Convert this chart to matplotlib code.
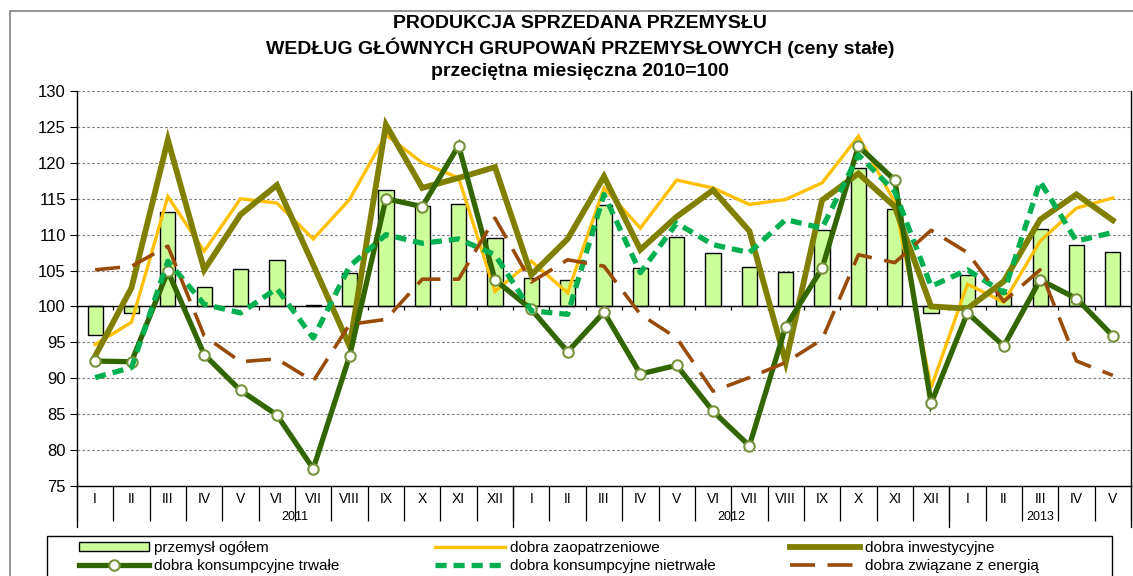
import numpy as np
import matplotlib.pyplot as plt
from matplotlib.patches import Rectangle
from matplotlib.lines import Line2D

plt.rcParams['font.family'] = ['Liberation Sans', 'DejaVu Sans']
plt.rcParams['lines.scale_dashes'] = False
NARROW = ['Liberation Sans Narrow', 'Liberation Sans', 'DejaVu Sans']

# -----------------------------
# Data (2010 monthly average = 100)
# -----------------------------
months = ["I", "II", "III", "IV", "V", "VI", "VII", "VIII", "IX", "X", "XI", "XII"] * 2 + \
         ["I", "II", "III", "IV", "V"]
years = ["2011", "2012", "2013"]
year_len = [12, 12, 5]

ogolem = [96.0, 99.1, 113.1, 102.7, 105.2, 106.4, 100.2, 104.7, 116.2, 114.0, 114.3, 109.5,
          104.0, 103.7, 114.1, 105.4, 109.7, 107.5, 105.5, 104.8, 110.6, 119.3, 113.6, 99.1,
          104.4, 101.9, 110.8, 108.5, 107.6]
zaopatrz = [94.7, 97.8, 115.3, 107.7, 115.0, 114.4, 109.4, 114.9, 123.9, 120.0, 117.9, 102.1,
            106.3, 101.9, 116.5, 110.9, 117.6, 116.5, 114.2, 114.9, 117.2, 123.7, 114.5, 88.7,
            103.1, 100.6, 109.1, 113.7, 115.1]
inwest = [93.1, 102.6, 123.2, 105.1, 112.8, 116.9, 105.8, 94.5, 125.3, 116.5, 117.9, 119.4,
          104.4, 109.4, 118.1, 107.9, 112.5, 116.2, 110.5, 92.2, 114.8, 118.5, 113.9, 100.0,
          99.7, 103.5, 112.1, 115.6, 112.0]
trwale = [92.4, 92.3, 104.9, 93.3, 88.3, 84.9, 77.4, 93.1, 115.0, 113.9, 122.4, 103.7,
          99.6, 93.7, 99.2, 90.6, 91.8, 85.4, 80.6, 97.2, 105.3, 122.3, 117.6, 86.5,
          99.1, 94.5, 103.7, 101.1, 95.9]
nietrwale = [90.1, 91.5, 106.3, 100.3, 99.1, 102.5, 95.6, 105.6, 110.0, 108.8, 109.4, 107.2,
             99.4, 98.9, 115.6, 104.7, 111.6, 108.6, 107.5, 112.1, 110.9, 121.1, 116.0, 102.8,
             105.1, 101.9, 117.4, 109.1, 110.3]
energia = [105.1, 105.6, 108.4, 95.9, 92.3, 92.7, 89.6, 97.5, 98.2, 103.8, 103.8, 112.3,
           103.4, 106.5, 105.6, 98.9, 95.6, 88.2, 90.1, 92.2, 95.4, 107.2, 106.1, 110.6,
           107.5, 100.7, 105.1, 92.4, 90.4]

labels = ["przemysł ogółem", "dobra zaopatrzeniowe", "dobra inwestycyjne",
          "dobra konsumpcyjne trwałe", "dobra konsumpcyjne nietrwałe",
          "dobra związane z energią"]

# -----------------------------
# Styles
# -----------------------------
C_BAR = "#CCFF99"
C_ORANGE = "#FFC000"
C_OLIVE = "#808000"
C_DKGREEN = "#336600"
C_GREEN = "#00B050"
C_BROWN = "#994C0A"
C_MARK = "#77933C"

# -----------------------------
# Figure
# -----------------------------
fig = plt.figure(figsize=(11.33, 5.76), dpi=100)
W, H = 1133, 576
ax = fig.add_axes([77 / W, 1 - 486 / H, (1131 - 77) / W, (486 - 91) / H])

x = np.arange(len(months))
base = 100

ax.bar(x, np.array(ogolem) - base, bottom=base, width=0.42, color=C_BAR,
       edgecolor="black", linewidth=1.0, zorder=2)

ax.plot(x, zaopatrz, color=C_ORANGE, lw=2.4, zorder=3, solid_joinstyle="miter")
ax.plot(x, inwest, color=C_OLIVE, lw=4.2, zorder=4, solid_joinstyle="miter")
ax.plot(x, trwale, color=C_DKGREEN, lw=3.8, zorder=5, marker="o", markersize=7.5,
        markerfacecolor="white", markeredgecolor=C_MARK, markeredgewidth=1.5,
        solid_joinstyle="miter")
ax.plot(x, nietrwale, color=C_GREEN, lw=3.8, zorder=6, dashes=(8, 5),
        dash_capstyle="butt")
ax.plot(x, energia, color=C_BROWN, lw=2.6, zorder=7, dashes=(18, 9),
        dash_capstyle="butt")

# axes and grid
ax.set_xlim(-0.5, len(months) - 0.5)
ax.set_ylim(75, 130)
ax.set_yticks(np.arange(75, 131, 5))
ax.tick_params(axis="y", labelsize=12, length=5, direction="out", pad=3)
ax.yaxis.grid(True, color="#808080", linestyle=(0, (2, 1.5)), linewidth=0.8, zorder=0)
ax.set_axisbelow(True)
ax.spines["top"].set_visible(False)
for s in ["left", "right", "bottom"]:
    ax.spines[s].set_linewidth(1.0)

# category axis line crossing at 100
ax.axhline(base, color="black", lw=1.0, zorder=2.5)
bounds = np.arange(len(months) + 1) - 0.5
ax.vlines(bounds, base - 0.55, base, color="black", lw=0.9, zorder=2.5)

# bottom month / year labels
ax.set_xticks(bounds)
ax.set_xticklabels([])
ax.tick_params(axis="x", length=25, width=0.9, direction="out")
tr = ax.get_xaxis_transform()
for i, m in enumerate(months):
    ax.text(i, -0.032, m, transform=tr, ha="center", va="center",
            fontsize=10, family=NARROW)
start = 0
for yname, n in zip(years, year_len):
    ax.plot([start - 0.5, start - 0.5], [0, -0.105], transform=tr,
            color="black", lw=0.9, clip_on=False)
    ax.text(start + n / 2 - 0.5, -0.078, yname, transform=tr, ha="center",
            va="center", fontsize=9, family=NARROW)
    start += n
ax.plot([start - 0.5, start - 0.5], [0, -0.105], transform=tr,
        color="black", lw=0.9, clip_on=False)

# -----------------------------
# Title
# -----------------------------
tx = 580 / W
fig.text(tx, 1 - 24 / H, "PRODUKCJA SPRZEDANA PRZEMYSŁU", ha="center", va="center",
         fontsize=14, fontweight="bold")
fig.text(tx, 1 - 48 / H, "WEDŁUG GŁÓWNYCH GRUPOWAŃ PRZEMYSŁOWYCH (ceny stałe)",
         ha="center", va="center", fontsize=14, fontweight="bold")
fig.text(tx, 1 - 72 / H, "przeciętna miesięczna 2010=100", ha="center", va="center",
         fontsize=14, fontweight="bold")

# -----------------------------
# Legend
# -----------------------------
h_bar = Rectangle((0, 0), 1, 1, facecolor=C_BAR, edgecolor="black", lw=1.0)
h_or = Line2D([], [], color=C_ORANGE, lw=2.4)
h_ol = Line2D([], [], color=C_OLIVE, lw=4.2)
h_dg = Line2D([], [], color=C_DKGREEN, lw=3.8, marker="o", markersize=7.5,
              markerfacecolor="white", markeredgecolor=C_MARK, markeredgewidth=1.5)
h_gr = Line2D([], [], color=C_GREEN, lw=3.8, dashes=(8, 5), dash_capstyle="butt")
h_br = Line2D([], [], color=C_BROWN, lw=2.6, dashes=(18, 9), dash_capstyle="butt")

cols = [([h_bar, h_dg], [labels[0], labels[3]], 79),
        ([h_or, h_gr], [labels[1], labels[4]], 435),
        ([h_ol, h_br], [labels[2], labels[5]], 790)]
for hs, ls, px in cols:
    fig.legend(hs, ls, loc="upper left", bbox_to_anchor=(px / W, 1 - 541 / H),
               frameon=False, fontsize=11, handlelength=4.6, handleheight=0.6,
               handletextpad=0.3, labelspacing=0.25, borderpad=0, borderaxespad=0,
               numpoints=1)

# legend box and outer chart frame
fig.patches.append(Rectangle((47 / W, -0.02), (1112 - 47) / W, (576 - 536) / H + 0.02,
                             transform=fig.transFigure, fill=False,
                             edgecolor="black", lw=1.0))
fig.patches.append(Rectangle((10.5 / W, -0.05), 1.2, (576 - 10.5) / H + 0.05,
                             transform=fig.transFigure, fill=False,
                             edgecolor="#808080", lw=1.2))

fig.savefig("out.png", dpi=100)
